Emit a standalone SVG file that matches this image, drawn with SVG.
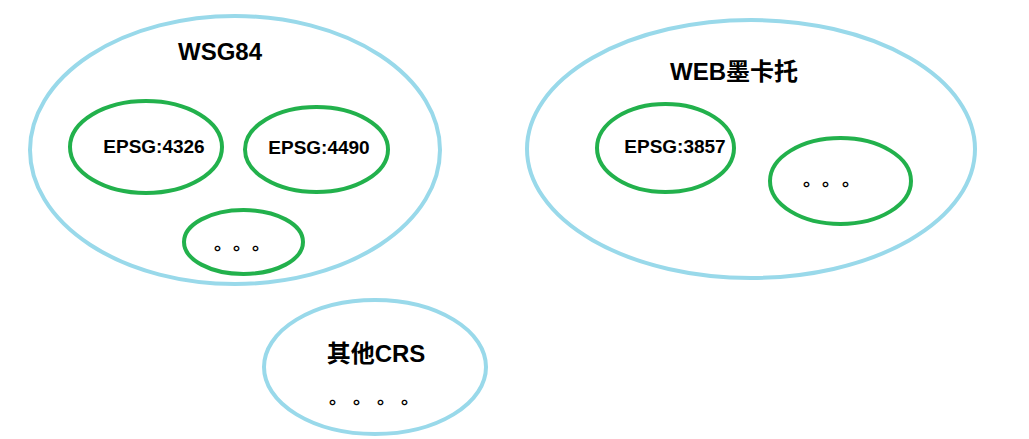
<svg xmlns="http://www.w3.org/2000/svg" width="1029" height="439" viewBox="0 0 1029 439">
<style>
.outer{fill:none;stroke:#99d9ea;stroke-width:4}
.inner{fill:none;stroke:#22b14c;stroke-width:4}
.t{font-family:"Liberation Sans","Noto Sans CJK SC",sans-serif;font-weight:bold;fill:#000;text-anchor:middle}
.big{font-size:24px}
.mid{font-size:19px}
.dots{font-family:"Noto Sans CJK SC",sans-serif;font-weight:bold;font-size:18px;fill:#000}
</style>
<rect width="1029" height="439" fill="#fff"/>
<g id="wsg84">
<ellipse class="outer" cx="235" cy="150" rx="205" ry="134"/>
<text class="t big" x="220" y="60">WSG84</text>
</g>
<g id="epsg4326">
<ellipse class="inner" cx="146" cy="147" rx="76" ry="46"/>
<text class="t mid" x="154" y="153">EPSG:4326</text>
</g>
<g id="epsg4490">
<ellipse class="inner" cx="316.5" cy="149.5" rx="71.5" ry="42.5"/>
<text class="t mid" x="319" y="154">EPSG:4490</text>
</g>
<g id="wsg-more">
<ellipse class="inner" cx="243.5" cy="242" rx="59.5" ry="32"/>
<text class="dots" x="214 233 252" y="250">。。。</text>
</g>
<g id="web">
<ellipse class="outer" cx="751" cy="149" rx="224" ry="129"/>
<text class="t big" x="734" y="80">WEB墨卡托</text>
</g>
<g id="epsg3857">
<ellipse class="inner" cx="665.5" cy="148" rx="68.5" ry="44"/>
<text class="t mid" x="675" y="153">EPSG:3857</text>
</g>
<g id="web-more">
<ellipse class="inner" cx="840.5" cy="181" rx="70.5" ry="43"/>
<text class="dots" x="803 822 842" y="186">。。。</text>
</g>
<g id="other">
<ellipse class="outer" cx="375" cy="367" rx="111" ry="67"/>
<text class="t big" x="376" y="362">其他CRS</text>
<text class="dots" x="329 353 377 401" y="404">。。。。</text>
</g>
<g id="connectors"></g>
</svg>
